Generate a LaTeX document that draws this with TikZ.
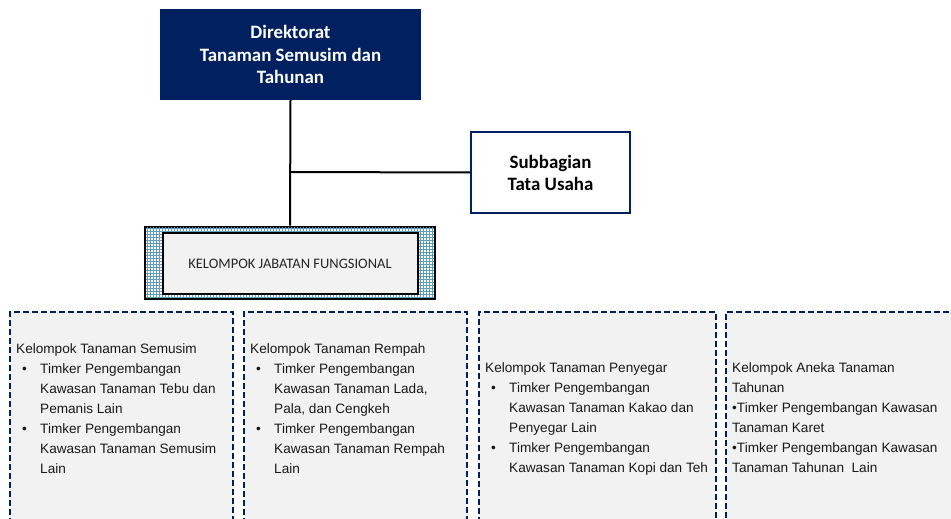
\documentclass[tikz,border=0pt]{standalone}
\usepackage{fontspec}
\setmainfont{Liberation Sans}
\newfontfamily\arialf{Liberation Sans}
\newfontfamily\calib{Carlito}
\usetikzlibrary{patterns}
\definecolor{navy}{HTML}{002060}
\definecolor{boxgray}{HTML}{F2F2F2}
\definecolor{hatchblue}{HTML}{5F9FB5}
\tikzset{
  x=1pt, y=-1pt,
  line/.style={line width=2pt, black},
  grpbox/.style={draw=navy, fill=boxgray, line width=2pt, dash pattern=on 6pt off 3pt},
  grptext/.style={anchor=north west, inner sep=0pt, align=left, font=\arialf\fontsize{13.6}{20}\selectfont, text=black!90},
  headtext/.style={font=\calib\bfseries\fontsize{18.9}{22.5}\selectfont, align=center}
}
\newcommand{\bul}{\makebox[24pt][l]{\hspace*{6pt}•}}
\newcommand{\ind}{\hspace*{24pt}}
\begin{document}
\begin{tikzpicture}
\useasboundingbox (0,0) rectangle (951,519);
\clip (0,0) rectangle (951,519);
% top box
\node[fill=navy, minimum width=261pt, minimum height=91pt, inner sep=0pt] (dir) at (290.5,54.5) {};
\node[headtext, text=white] (dirt) at (290.5,54.5) {Direktorat\\Tanaman Semusim dan\\Tahunan};
% subbagian
\node[draw=navy, line width=2pt, fill=white, minimum width=159pt, minimum height=81pt, inner sep=0pt] (sub) at (550.5,172.5) {};
\node[headtext, text=black] (subt) at (550.5,173) {Subbagian\\Tata Usaha};
% KJF
\node[draw=black, line width=2pt, fill=white, minimum width=290pt, minimum height=72pt, inner sep=0pt] (kjfo) at (290,262.5) {};
\fill[pattern=grid, pattern color=hatchblue] (146,227.5) rectangle (434,297.5);
\node[draw=black, line width=2pt, fill=boxgray, minimum width=255pt, minimum height=61pt, inner sep=0pt] (kjf) at (290,263) {};
\node[font=\calib\fontsize{14.5}{16}\selectfont, text=black!85] (kjft) at (290,264) {KELOMPOK JABATAN FUNGSIONAL};
% connectors
\coordinate (j) at (290,172);
\draw[line] (dir.south) -- (kjfo.north);
\draw[line] (j) -- (sub.west);
% bottom boxes
\node[grpbox, minimum width=223pt, minimum height=230pt, inner sep=0pt, anchor=north west] (b1) at (9,311) {};
\node[grpbox, minimum width=223pt, minimum height=230pt, inner sep=0pt, anchor=north west] (b2) at (243,311) {};
\node[grpbox, minimum width=237pt, minimum height=230pt, inner sep=0pt, anchor=north west] (b3) at (478,311) {};
\node[grpbox, minimum width=226pt, minimum height=230pt, inner sep=0pt, anchor=north west] (b4) at (725,311) {};
\node[grptext] (t1) at (16,343) {Kelompok Tanaman Semusim\\
\bul Timker Pengembangan\\
\ind Kawasan Tanaman Tebu dan\\
\ind Pemanis Lain\\
\bul Timker Pengembangan\\
\ind Kawasan Tanaman Semusim\\
\ind Lain};
\node[grptext] (t2) at (250,343) {Kelompok Tanaman Rempah\\
\bul Timker Pengembangan\\
\ind Kawasan Tanaman Lada,\\
\ind Pala, dan Cengkeh\\
\bul Timker Pengembangan\\
\ind Kawasan Tanaman Rempah\\
\ind Lain};
\node[grptext] (t3) at (485,362) {Kelompok Tanaman Penyegar\\
\bul Timker Pengembangan\\
\ind Kawasan Tanaman Kakao dan\\
\ind Penyegar Lain\\
\bul Timker Pengembangan\\
\ind Kawasan Tanaman Kopi dan Teh};
\node[grptext] (t4) at (732,362) {Kelompok Aneka Tanaman\\
Tahunan\\
•Timker Pengembangan Kawasan\\
Tanaman Karet\\
•Timker Pengembangan Kawasan\\
Tanaman Tahunan\ \ Lain};
\end{tikzpicture}
\end{document}
